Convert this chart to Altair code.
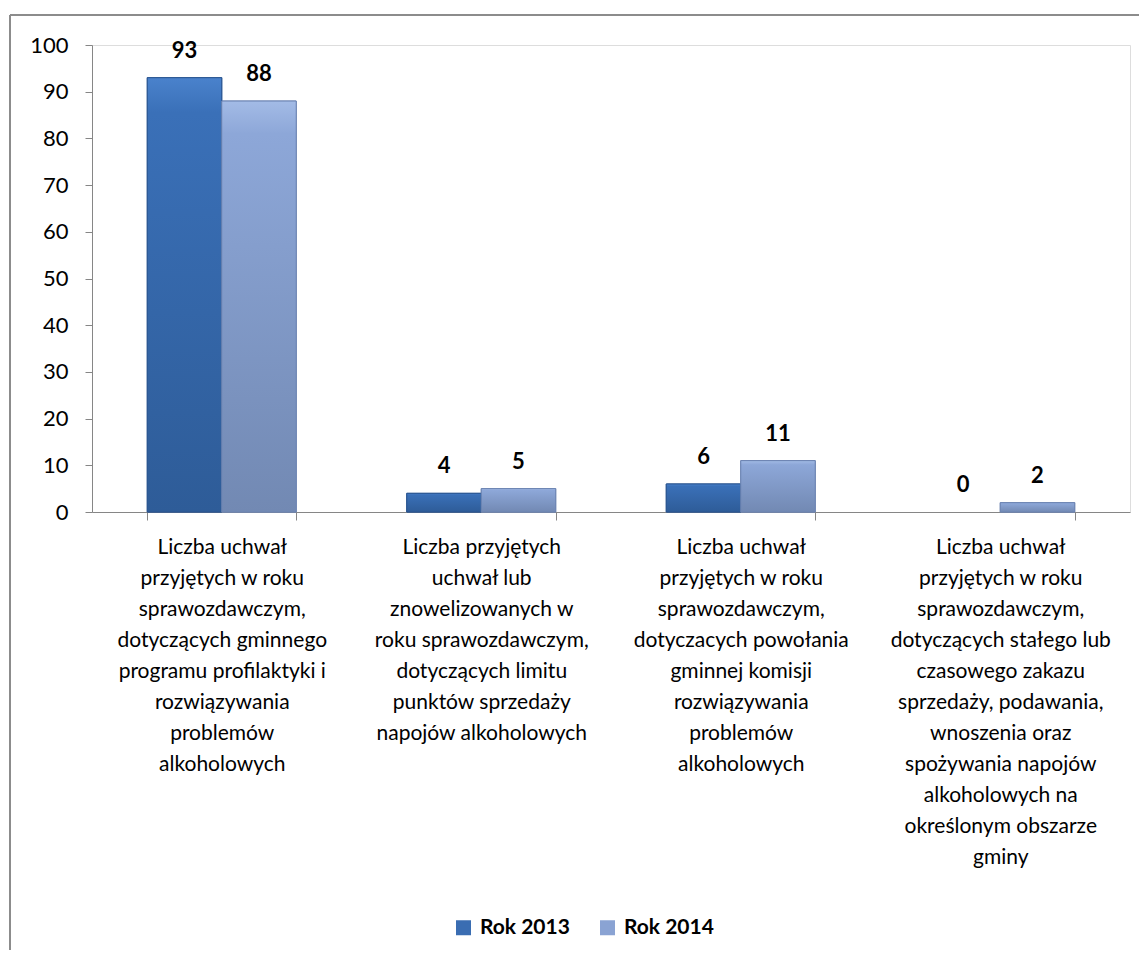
import altair as alt
import pandas as pd

FONT = "Lato"

categories = [
    "Liczba uchwał\nprzyjętych w roku\nsprawozdawczym,\ndotyczących gminnego\nprogramu profilaktyki i\nrozwiązywania\nproblemów\nalkoholowych",
    "Liczba przyjętych\nuchwał lub\nznowelizowanych w\nroku sprawozdawczym,\ndotyczących limitu\npunktów sprzedaży\nnapojów alkoholowych",
    "Liczba uchwał\nprzyjętych w roku\nsprawozdawczym,\ndotyczacych powołania\ngminnej komisji\nrozwiązywania\nproblemów\nalkoholowych",
    "Liczba uchwał\nprzyjętych w roku\nsprawozdawczym,\ndotyczących stałego lub\nczasowego zakazu\nsprzedaży, podawania,\nwnoszenia oraz\nspożywania napojów\nalkoholowych na\nokreślonym obszarze\ngminy",
]
series = ["Rok 2013", "Rok 2014"]
values_2013 = [93, 4, 6, 0]
values_2014 = [88, 5, 11, 2]
y_ticks = [0, 10, 20, 30, 40, 50, 60, 70, 80, 90, 100]
colors = ["#3A6DB2", "#8AA3D3"]
strokes = ["#2A5590", "#6C84B2"]
gradients = [
    ("#4A82CC", "#3A70B8", "#2E5C98"),
    ("#A3BBE6", "#8DA7D8", "#7289B3"),
]

rows = []
for c, a, b in zip(categories, values_2013, values_2014):
    rows.append({"cat": c, "year": series[0], "value": a})
    rows.append({"cat": c, "year": series[1], "value": b})
df = pd.DataFrame(rows)

W, H = 1038, 467
PAD_L, PAD_T = 84, 37
FS = 21

x_enc = alt.X(
    "cat:N",
    sort=categories,
    scale=alt.Scale(paddingInner=0.426, paddingOuter=0.213),
    axis=alt.Axis(
        title=None,
        labelAngle=0,
        labelExpr="isValid(datum.value) && datum.value != 'undefined' ? split(datum.value, '\\n') : ''",
        labelLineHeight=31,
        labelFontSize=FS,
        labelFont=FONT,
        labelColor="#000000",
        labelLimit=0,
        labelPadding=16,
        tickBand="extent",
        tickSize=8,
        domainColor="#868686",
        tickColor="#868686",
        labelBaseline="top",
    ),
)
xo_enc = alt.XOffset("year:N", sort=series, scale=alt.Scale(paddingInner=0, paddingOuter=0))
y_enc = alt.Y(
    "value:Q",
    scale=alt.Scale(domain=[0, 100], nice=False),
    axis=alt.Axis(
        title=None,
        values=y_ticks,
        grid=False,
        labelFontSize=22,
        labelFont=FONT,
        labelColor="#000000",
        labelPadding=17,
        tickSize=7,
        domainColor="#868686",
        tickColor="#868686",
    ),
)
color_enc = alt.Color(
    "year:N",
    sort=series,
    scale=alt.Scale(domain=series, range=colors),
    legend=alt.Legend(
        title=None,
        orient="none",
        legendX=361,
        legendY=872,
        direction="horizontal",
        symbolType="square",
        symbolSize=225,
        symbolStrokeWidth=0,
        labelFontSize=FS,
        labelFont=FONT,
        labelFontWeight="bold",
        labelColor="#000000",
        columnPadding=27,
        labelOffset=6,
    ),
)

base = alt.Chart(df).transform_filter("datum.value > 0")

bars = base.mark_bar(strokeWidth=1).encode(
    x=x_enc,
    xOffset=xo_enc,
    y=y_enc,
    color=color_enc,
    stroke=alt.Stroke("year:N", sort=series, scale=alt.Scale(domain=series, range=strokes), legend=None),
)

overlays = []
for s, (g_top, g_mid, g_bot), st in zip(series, gradients, strokes):
    overlays.append(
        base.transform_filter(alt.datum.year == s).mark_bar(
            fill=alt.Gradient(
                gradient="linear",
                x1=0, y1=0, x2=0, y2=1,
                stops=[
                    alt.GradientStop(color=g_top, offset=0),
                    alt.GradientStop(color=g_mid, offset=0.08),
                    alt.GradientStop(color=g_bot, offset=1),
                ],
            ),
            stroke=st,
            strokeWidth=1,
        ).encode(
            x=alt.X("cat:N", sort=categories),
            xOffset=alt.XOffset("year:N", sort=series),
            y="value:Q",
        )
    )

labels = alt.Chart(df).mark_text(
    font=FONT, fontSize=22, fontWeight="bold", color="#000000", dy=-27, baseline="middle"
).encode(
    x=alt.X("cat:N", sort=categories),
    xOffset=alt.XOffset("year:N", sort=series),
    y="value:Q",
    text="value:Q",
)

frame_df = pd.DataFrame({"k": [0]})
top_line = alt.Chart(frame_df).mark_rule(color="#8C8C8C", strokeWidth=2).encode(
    x=alt.value(-82), x2=alt.value(W + 20), y=alt.value(-30)
)
left_line = alt.Chart(frame_df).mark_rule(color="#8C8C8C", strokeWidth=2).encode(
    x=alt.value(-82), y=alt.value(-30), y2=alt.value(H + 460)
)

chart = alt.layer(top_line, left_line, bars, *overlays, labels).properties(
    width=W,
    height=H,
    autosize=alt.AutoSizeParams(type="none"),
    padding={"left": PAD_L, "top": PAD_T, "right": 9, "bottom": 438},
).configure_view(stroke=None).configure(background="#FFFFFF")

chart.save("out.html", embed_options={"renderer": "svg", "actions": False})
